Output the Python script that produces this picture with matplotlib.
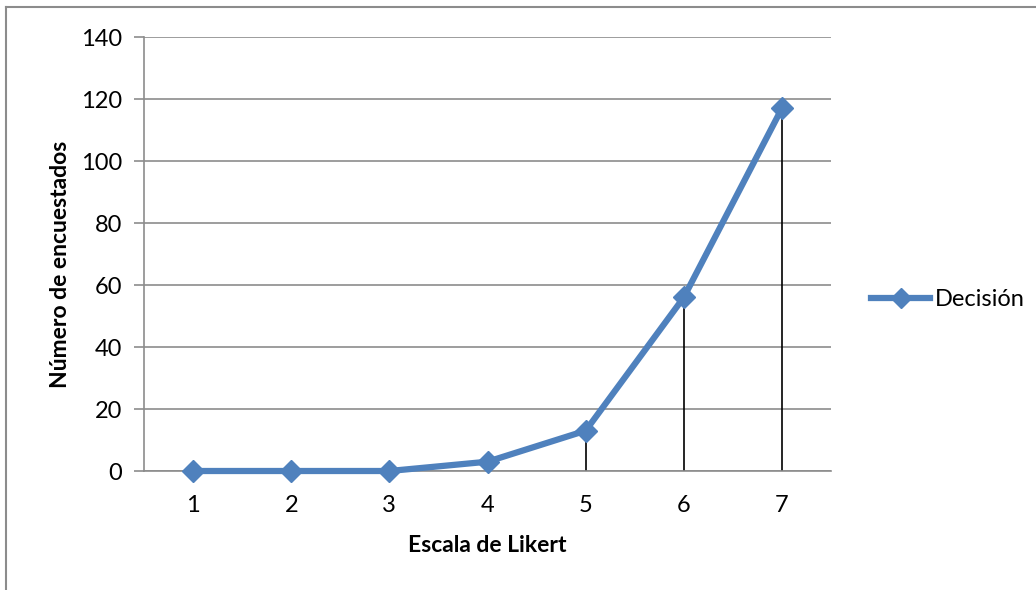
import matplotlib
matplotlib.use('Agg')
import matplotlib.pyplot as plt
from matplotlib.lines import Line2D
import numpy as np

# Escala de Likert vs número de encuestados
escala = ['1', '2', '3', '4', '5', '6', '7']
decision = [0, 0, 0, 3, 13, 56, 117]
y_ticks = [0, 20, 40, 60, 80, 100, 120, 140]

plt.rcParams['font.family'] = ['Lato', 'DejaVu Sans']

W, H = 1036, 590
fig = plt.figure(figsize=(W / 100, H / 100), dpi=100)

# plot area in pixel coordinates
left, right, top, bottom = 144, 831, 37, 471
ax = fig.add_axes([left / W, 1 - bottom / H, (right - left) / W, (bottom - top) / H])

x = np.arange(len(escala))
ax.set_xlim(-0.5, len(escala) - 0.5)
ax.set_ylim(0, 140)

ax.set_yticks(y_ticks)
ax.yaxis.grid(True, color='#8c8c8c', linewidth=1.2)
ax.set_axisbelow(True)
ax.set_xticks(x)
ax.set_xticklabels(escala)
ax.tick_params(axis='y', length=7, color='#8c8c8c', width=1.2, labelsize=17, pad=9)
ax.tick_params(axis='x', length=0, labelsize=17, pad=17)

for side in ['top', 'right']:
    ax.spines[side].set_visible(False)
ax.spines['left'].set_color('#8c8c8c')
ax.spines['left'].set_linewidth(1.2)
ax.spines['bottom'].set_color('#8c8c8c')
ax.spines['bottom'].set_linewidth(1.2)

# drop lines
ax.vlines(x, 0, decision, colors='black', linewidth=1.2, zorder=2)

color = '#4f81bd'
ax.plot(x, decision, color=color, linewidth=4.5, marker='D', markersize=11,
        markeredgecolor=color, zorder=3, clip_on=False)

ax.set_xlabel('Escala de Likert', fontsize=16.5, fontweight='bold', labelpad=14)
ax.set_ylabel('Número de encuestados', fontsize=16.5, fontweight='bold')
ax.yaxis.set_label_coords(-0.106, 0.475)

handle = Line2D([], [], color=color, linewidth=4.5, marker='D', markersize=10,
                markeredgecolor=color)
fig.legend([handle], ['Decisión'], loc='center left',
           bbox_to_anchor=(862 / W, 1 - 300 / H), frameon=False,
           fontsize=17, handlelength=2.5, handletextpad=0.2, borderaxespad=0)

# outer chart border (top and left visible)
fig.add_artist(Line2D([5.5 / W, 5.5 / W], [0, 1 - 6.5 / H], transform=fig.transFigure,
                      color='#8c8c8c', linewidth=1.5))
fig.add_artist(Line2D([5.5 / W, 1], [1 - 6.5 / H, 1 - 6.5 / H], transform=fig.transFigure,
                      color='#8c8c8c', linewidth=1.5))

fig.savefig('out.png', dpi=100, facecolor='white')
